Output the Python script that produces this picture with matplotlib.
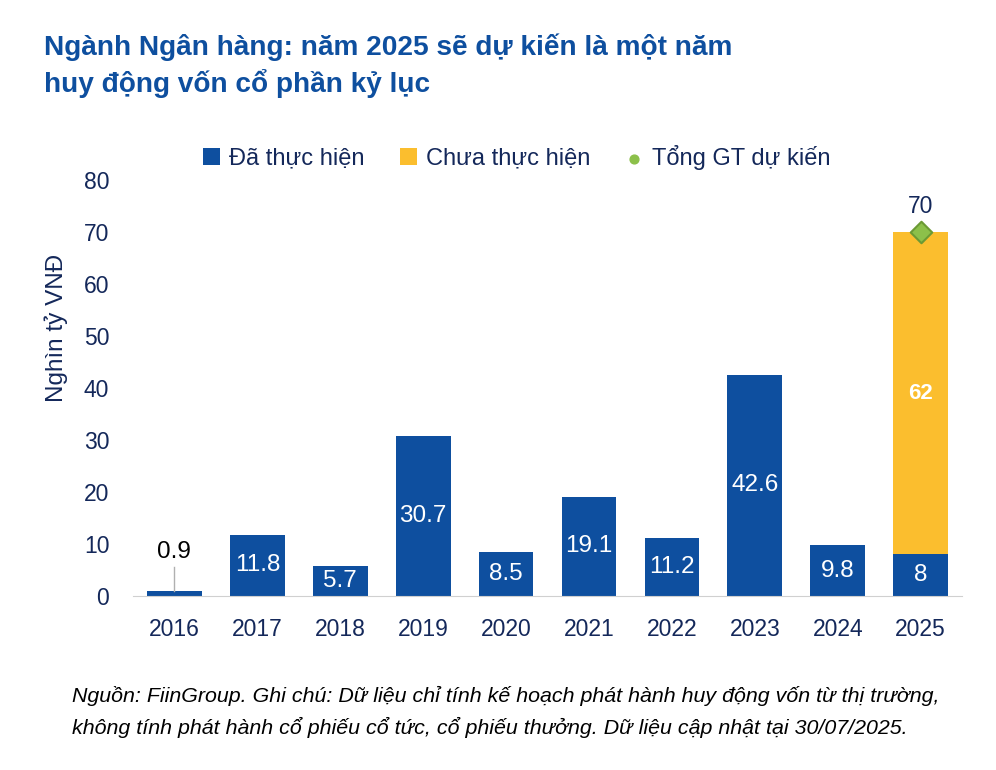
import numpy as np
import matplotlib.pyplot as plt

# du lieu
nam = ['2016', '2017', '2018', '2019', '2020', '2021', '2022', '2023', '2024', '2025']
da_thuc_hien = [0.9, 11.8, 5.7, 30.7, 8.5, 19.1, 11.2, 42.6, 9.8, 8]
chua_thuc_hien = [0, 0, 0, 0, 0, 0, 0, 0, 0, 62]
tong_du_kien = 70

xanh = '#0e4f9f'
vang = '#fbbe2e'
luc = '#8cc04a'
chu = '#14285a'

plt.rcParams['font.family'] = ['Liberation Sans', 'DejaVu Sans']

fig = plt.figure(figsize=(9.96, 7.7), dpi=100)
ax = fig.add_axes([0.1335, 0.226, 0.8325, 0.54])

x = np.arange(len(nam))
w = 0.66
b1 = ax.bar(x, da_thuc_hien, width=w, color=xanh)
b2 = ax.bar(x, chua_thuc_hien, width=w, bottom=da_thuc_hien, color=vang)
ax.scatter([x[-1]], [tong_du_kien], marker='D', s=120, color=luc, edgecolor='#6b9a34',
           linewidth=1.5, zorder=5)
d = ax.scatter([], [], marker='o', s=40, color=luc)

# nhan gia tri
for i, v in enumerate(da_thuc_hien):
    if v < 3:
        ax.plot([i, i], [v, 5.5], color='#b0b0b0', linewidth=1)
        ax.text(i, 8.5, f'{v:g}', ha='center', va='center', fontsize=17.5, color='black')
    else:
        ax.text(i, v / 2, f'{v:g}', ha='center', va='center', fontsize=17.5, color='white')
for i, v in enumerate(chua_thuc_hien):
    if v > 0:
        ax.text(i, da_thuc_hien[i] + v / 2, f'{v:g}', ha='center', va='center',
                fontsize=16, color='white', fontweight='bold')
ax.text(x[-1], tong_du_kien + 5.0, f'{tong_du_kien}', ha='center', va='center',
        fontsize=16.5, color=chu)

ax.set_xlim(-0.5, 9.5)
ax.set_ylim(0, 80)
ax.set_yticks(range(0, 81, 10))
ax.set_xticks(x)
ax.set_xticklabels(nam)
ax.tick_params(axis='both', length=0, labelsize=16.5, labelcolor=chu)
ax.tick_params(axis='x', pad=16)
ax.tick_params(axis='y', pad=17)
for s in ['top', 'right', 'left']:
    ax.spines[s].set_visible(False)
ax.spines['bottom'].set_color('#d0d0d0')
ax.set_ylabel('Nghìn tỷ VNĐ', fontsize=17.5, color=chu)
ax.yaxis.set_label_coords(-0.078, 0.644)

ax.legend([b1, b2, d], ['Đã thực hiện', 'Chưa thực hiện', 'Tổng GT dự kiến'],
          loc='center', bbox_to_anchor=(0.463, 1.055), ncol=3, frameon=False,
          fontsize=17, labelcolor=chu, handlelength=0.7, handleheight=0.7,
          handletextpad=0.4, columnspacing=1.5)

fig.text(0.044, 0.957, 'Ngành Ngân hàng: năm 2025 sẽ dự kiến là một năm\nhuy động vốn cổ phần kỷ lục',
         fontsize=20.2, fontweight='bold', color=xanh, va='top', linespacing=1.35)
fig.text(0.072, 0.0753, 'Nguồn: FiinGroup. Ghi chú: Dữ liệu chỉ tính kế hoạch phát hành huy động vốn từ thị trường,\n'
         'không tính phát hành cổ phiếu cổ tức, cổ phiếu thưởng. Dữ liệu cập nhật tại 30/07/2025.',
         fontsize=15.4, style='italic', color='black', va='center', linespacing=1.6)

plt.savefig('out.png', dpi=100)
